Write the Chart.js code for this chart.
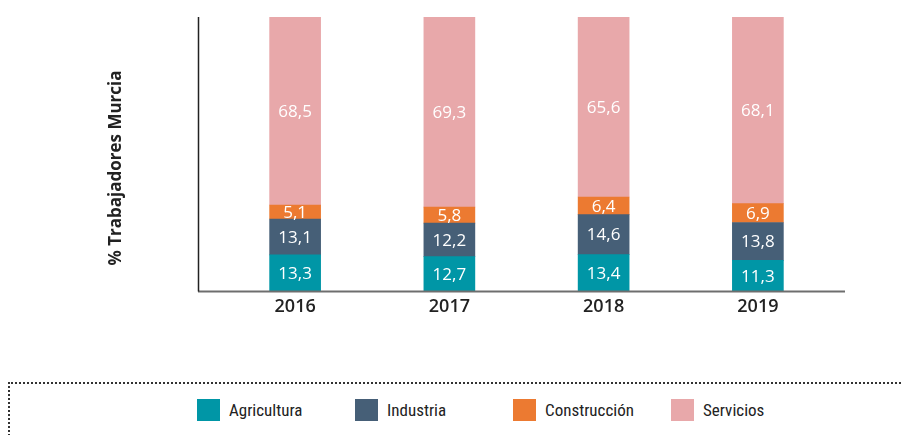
<!DOCTYPE html>
<html>
<head>
<meta charset="utf-8">
<script src="https://cdn.jsdelivr.net/npm/chart.js@4"></script>
<style>
  body { margin: 0; background: #fff; }
  #wrap { position: relative; width: 903px; height: 435px; overflow: hidden; }
  #chartBox { position: absolute; left: 0; top: 0; width: 903px; height: 340px; }
  #legendBox {
    position: absolute; left: 8px; top: 382px; width: 910px; height: 80px;
    border-top: 2px dotted #333; border-left: 2px dotted #333;
  }
  #legend { position: absolute; left: 187px; top: 15px; display: flex; }
  .item { width: 158px; display: flex; align-items: center;
    font-family: "Liberation Sans Narrow", "Roboto Condensed", "Open Sans", sans-serif;
    font-size: 17px; color: #222; }
  .sw { width: 23px; height: 22px; margin-right: 9px; }
</style>
</head>
<body>
<div id="wrap">
  <div id="chartBox"><canvas id="myChart"></canvas></div>
  <div id="legendBox"><div id="legend"></div></div>
</div>
<script>
const years = ['2016', '2017', '2018', '2019'];
const agricultura = [13.3, 12.7, 13.4, 11.3];
const industria = [13.1, 12.2, 14.6, 13.8];
const construccion = [5.1, 5.8, 6.4, 6.9];
const servicios = [68.5, 69.3, 65.6, 68.1];

const seriesNames = ['Agricultura', 'Industria', 'Construcción', 'Servicios'];
const seriesColors = ['#0096a6', '#465f77', '#ec7a31', '#e8a8aa'];
const seriesData = [agricultura, industria, construccion, servicios];

// value labels in the middle of each segment
const segmentLabels = {
    id: 'segmentLabels',
    afterDatasetsDraw(chart) {
        const ctx = chart.ctx;
        ctx.save();
        ctx.fillStyle = '#fff';
        ctx.font = '17px "Open Sans"';
        ctx.textAlign = 'center';
        ctx.textBaseline = 'middle';
        chart.data.datasets.forEach((ds, i) => {
            chart.getDatasetMeta(i).data.forEach((bar, j) => {
                const txt = ds.data[j].toFixed(1).replace('.', ',');
                ctx.fillText(txt, bar.x, (bar.y + bar.base) / 2 + 1);
            });
        });
        ctx.restore();
    }
};

// axis lines and the rotated y title
const axisDeco = {
    id: 'axisDeco',
    afterDraw(chart) {
        const ctx = chart.ctx;
        const a = chart.chartArea;
        ctx.save();
        ctx.strokeStyle = '#6e6e6e';
        ctx.lineWidth = 2;
        ctx.beginPath();
        ctx.moveTo(198, a.bottom);
        ctx.lineTo(845, a.bottom);
        ctx.stroke();
        ctx.strokeStyle = '#222';
        ctx.lineWidth = 1.5;
        ctx.beginPath();
        ctx.moveTo(198.5, a.top);
        ctx.lineTo(198.5, a.bottom);
        ctx.stroke();

        ctx.translate(116, 168);
        ctx.rotate(-Math.PI / 2);
        ctx.fillStyle = '#222';
        ctx.font = 'bold 17px "Open Sans"';
        ctx.textAlign = 'center';
        ctx.textBaseline = 'middle';
        ctx.fillText('% Trabajadores Murcia', 0, 0);
        ctx.restore();
    }
};

const chart = new Chart(document.getElementById('myChart'), {
    type: 'bar',
    data: {
        labels: years,
        datasets: seriesNames.map((name, i) => ({
            label: name,
            data: seriesData[i],
            backgroundColor: seriesColors[i],
            barThickness: 51,
            borderWidth: 0
        }))
    },
    options: {
        responsive: true,
        maintainAspectRatio: false,
        animation: false,
        layout: { padding: { left: 218, right: 68, top: 17, bottom: 17 } },
        plugins: {
            legend: { display: false },
            tooltip: { enabled: false }
        },
        scales: {
            x: {
                stacked: true,
                grid: { display: false, drawTicks: false },
                border: { display: false },
                ticks: {
                    color: '#222',
                    padding: 5,
                    font: { family: 'Open Sans', size: 18, weight: '600' }
                }
            },
            y: {
                stacked: true,
                display: false,
                min: 0,
                max: 100
            }
        }
    },
    plugins: [segmentLabels, axisDeco]
});

const legend = document.getElementById('legend');
seriesNames.forEach((name, i) => {
    const item = document.createElement('div');
    item.className = 'item';
    const sw = document.createElement('span');
    sw.className = 'sw';
    sw.style.background = seriesColors[i];
    item.appendChild(sw);
    item.appendChild(document.createTextNode(name));
    legend.appendChild(item);
});
</script>
</body>
</html>
